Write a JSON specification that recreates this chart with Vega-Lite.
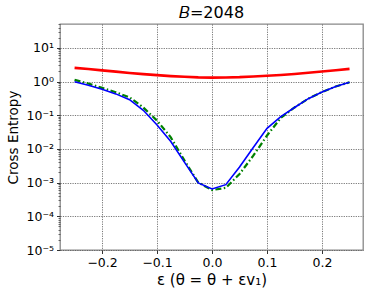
{
  "$schema": "https://vega.github.io/schema/vega-lite/v6.json",
  "autosize": "none",
  "width": 303,
  "height": 226,
  "padding": {"left": 60, "top": 24, "right": 10, "bottom": 46},
  "background": "white",
  "config": {
    "font": "DejaVu Sans",
    "view": {"stroke": "#888888", "strokeWidth": 1.3},
    "axis": {
      "domain": false,
      "grid": true,
      "gridColor": "#555555",
      "gridDash": [1.2, 1.2],
      "gridWidth": 0.8,
      "gridOpacity": 1,
      "tickColor": "#333333",
      "tickSize": 3.5,
      "labelColor": "black",
      "labelFontSize": 12.5,
      "labelFont": "DejaVu Sans",
      "titleFont": "DejaVu Sans",
      "titleFontWeight": "normal",
      "titleColor": "black"
    }
  },
  "title": {"text": "𝐵=2048", "fontSize": 16, "fontWeight": "normal", "font": "DejaVu Sans", "offset": 3, "color": "black"},
  "datasets": {
    "curves": [
      {"eps": -0.25, "series": "red", "ce": 2.55},
      {"eps": -0.225, "series": "red", "ce": 2.35},
      {"eps": -0.2, "series": "red", "ce": 2.15},
      {"eps": -0.175, "series": "red", "ce": 1.97},
      {"eps": -0.15, "series": "red", "ce": 1.8},
      {"eps": -0.125, "series": "red", "ce": 1.66},
      {"eps": -0.1, "series": "red", "ce": 1.55},
      {"eps": -0.075, "series": "red", "ce": 1.45},
      {"eps": -0.05, "series": "red", "ce": 1.38},
      {"eps": -0.025, "series": "red", "ce": 1.33},
      {"eps": 0.0, "series": "red", "ce": 1.31},
      {"eps": 0.025, "series": "red", "ce": 1.32},
      {"eps": 0.05, "series": "red", "ce": 1.35},
      {"eps": 0.075, "series": "red", "ce": 1.41},
      {"eps": 0.1, "series": "red", "ce": 1.48},
      {"eps": 0.125, "series": "red", "ce": 1.57},
      {"eps": 0.15, "series": "red", "ce": 1.68},
      {"eps": 0.175, "series": "red", "ce": 1.82},
      {"eps": 0.2, "series": "red", "ce": 1.98},
      {"eps": 0.225, "series": "red", "ce": 2.17},
      {"eps": 0.25, "series": "red", "ce": 2.38},

      {"eps": -0.25, "series": "green", "ce": 1.12},
      {"eps": -0.225, "series": "green", "ce": 0.87},
      {"eps": -0.2, "series": "green", "ce": 0.65},
      {"eps": -0.175, "series": "green", "ce": 0.48},
      {"eps": -0.15, "series": "green", "ce": 0.34},
      {"eps": -0.125, "series": "green", "ce": 0.17},
      {"eps": -0.1, "series": "green", "ce": 0.069},
      {"eps": -0.075, "series": "green", "ce": 0.022},
      {"eps": -0.05, "series": "green", "ce": 0.0045},
      {"eps": -0.025, "series": "green", "ce": 0.001},
      {"eps": 0.0, "series": "green", "ce": 0.0006},
      {"eps": 0.025, "series": "green", "ce": 0.0007},
      {"eps": 0.05, "series": "green", "ce": 0.0018},
      {"eps": 0.075, "series": "green", "ce": 0.0063},
      {"eps": 0.1, "series": "green", "ce": 0.025},
      {"eps": 0.125, "series": "green", "ce": 0.083},
      {"eps": 0.15, "series": "green", "ce": 0.17},
      {"eps": 0.175, "series": "green", "ce": 0.31},
      {"eps": 0.2, "series": "green", "ce": 0.49},
      {"eps": 0.225, "series": "green", "ce": 0.71},
      {"eps": 0.25, "series": "green", "ce": 0.95},

      {"eps": -0.25, "series": "blue", "ce": 0.98},
      {"eps": -0.225, "series": "blue", "ce": 0.78},
      {"eps": -0.2, "series": "blue", "ce": 0.59},
      {"eps": -0.175, "series": "blue", "ce": 0.43},
      {"eps": -0.15, "series": "blue", "ce": 0.29},
      {"eps": -0.125, "series": "blue", "ce": 0.14},
      {"eps": -0.1, "series": "blue", "ce": 0.051},
      {"eps": -0.075, "series": "blue", "ce": 0.0166},
      {"eps": -0.05, "series": "blue", "ce": 0.004},
      {"eps": -0.025, "series": "blue", "ce": 0.00098},
      {"eps": 0.0, "series": "blue", "ce": 0.00065},
      {"eps": 0.025, "series": "blue", "ce": 0.00087},
      {"eps": 0.05, "series": "blue", "ce": 0.0029},
      {"eps": 0.075, "series": "blue", "ce": 0.011},
      {"eps": 0.1, "series": "blue", "ce": 0.041},
      {"eps": 0.125, "series": "blue", "ce": 0.091},
      {"eps": 0.15, "series": "blue", "ce": 0.17},
      {"eps": 0.175, "series": "blue", "ce": 0.31},
      {"eps": 0.2, "series": "blue", "ce": 0.49},
      {"eps": 0.225, "series": "blue", "ce": 0.71},
      {"eps": 0.25, "series": "blue", "ce": 0.95}
    ]
  },
  "data": {"name": "curves"},
  "encoding": {
    "x": {
      "field": "eps",
      "type": "quantitative",
      "scale": {"domain": [-0.2765, 0.2745], "nice": false, "zero": false},
      "axis": {
        "values": [-0.2, -0.1, 0, 0.1, 0.2],
        "format": ".1f",
        "labelExpr": "replace(datum.label, '-', '−')",
        "title": "ε (θ = θ + εv₁)",
        "titleFontSize": 15,
        "titlePadding": 3,
        "labelPadding": 3
      }
    }
  },
  "layer": [
    {
      "transform": [{"filter": "datum.series === 'red'"}],
      "mark": {"type": "line", "color": "#ff0000", "strokeWidth": 2.6, "clip": true},
      "encoding": {
        "y": {
          "field": "ce",
          "type": "quantitative",
          "scale": {"type": "log", "domain": [0.00001, 51], "nice": false},
          "axis": {
            "orient": "left",
            "values": [0.00001, 0.0001, 0.001, 0.01, 0.1, 1, 10],
            "labelExpr": "'10' + (['⁻⁵','⁻⁴','⁻³','⁻²','⁻¹','⁰','¹'][round(log(datum.value)/LN10)+5])",
            "title": "Cross Entropy",
            "titleFontSize": 13.5,
            "titlePadding": 5,
            "labelPadding": 3
          }
        }
      }
    },
    {
      "transform": [{"filter": "datum.series === 'green'"}],
      "mark": {"type": "line", "color": "#008000", "strokeWidth": 2.2, "strokeDash": [6, 2.5, 1.5, 2.5], "clip": true},
      "encoding": {
        "y": {
          "field": "ce",
          "type": "quantitative",
          "axis": {
            "orient": "left",
            "values": [0.00002, 0.00003, 0.00004, 0.00005, 0.00006, 0.00007, 0.00008, 0.00009,
                       0.0002, 0.0003, 0.0004, 0.0005, 0.0006, 0.0007, 0.0008, 0.0009,
                       0.002, 0.003, 0.004, 0.005, 0.006, 0.007, 0.008, 0.009,
                       0.02, 0.03, 0.04, 0.05, 0.06, 0.07, 0.08, 0.09,
                       0.2, 0.3, 0.4, 0.5, 0.6, 0.7, 0.8, 0.9,
                       2, 3, 4, 5, 6, 7, 8, 9, 20, 30, 40, 50],
            "labels": false,
            "grid": false,
            "tickSize": 2,
            "tickWidth": 0.7,
            "title": null
          }
        }
      }
    },
    {
      "transform": [{"filter": "datum.series === 'blue'"}],
      "mark": {"type": "line", "color": "#0000ff", "strokeWidth": 1.6, "clip": true},
      "encoding": {
        "y": {"field": "ce", "type": "quantitative", "axis": null}
      }
    }
  ],
  "resolve": {"axis": {"y": "independent"}, "scale": {"y": "shared"}}
}
